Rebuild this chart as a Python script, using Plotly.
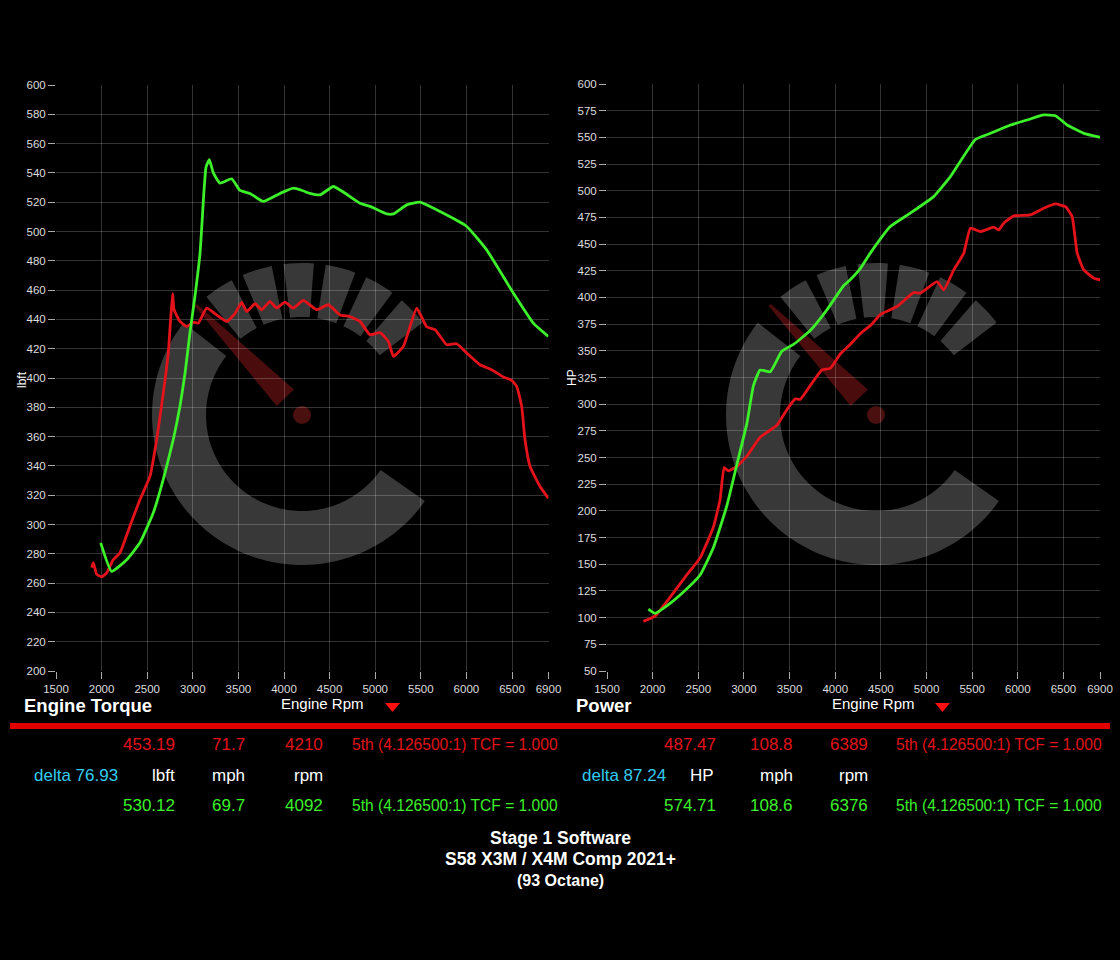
import math
import plotly.graph_objects as go

W, H = 1120, 960

# ---- data ----
rpm_ticks = [1500, 2000, 2500, 3000, 3500, 4000, 4500, 5000, 5500, 6000, 6500, 6900]

tq_stock_rpm = [1891, 1909, 1946, 2001, 2056, 2128, 2202, 2311, 2421, 2531, 2604, 2677, 2731,
                2757, 2779, 2794, 2860, 2933, 3005, 3060, 3152, 3262, 3372, 3463, 3536, 3591,
                3682, 3755, 3846, 3919, 4010, 4102, 4211, 4358, 4486, 4614, 4720, 4833, 4943,
                5053, 5144, 5199, 5309, 5455, 5564, 5656, 5784, 5894, 6003, 6149, 6277, 6405,
                6496, 6551, 6606, 6642, 6697, 6807, 6898]
tq_stock = [270.5, 274, 266, 264.3, 267, 276, 280.7, 299, 317, 333, 358, 390, 417,
            440, 457.5, 446.6, 438.6, 435.2, 438, 437.5, 447.7, 443, 438.6, 444, 451.6, 445.4,
            450.7, 446.6, 452.3, 447.7, 451.8, 447.7, 453, 446.6, 450, 443, 442, 438.6, 429.5,
            431, 425, 414.8, 421.6, 447.7, 435, 433, 422.7, 423.4, 417, 409, 405.7, 400.7,
            398.4, 394.3, 380.7, 358, 339.8, 326, 318]

tq_s1_rpm = [1990, 2110, 2275, 2420, 2567, 2677, 2786, 2860, 2914, 2969, 3024, 3079, 3123,
             3145, 3181, 3225, 3298, 3426, 3517, 3627, 3773, 3956, 4102, 4200, 4285, 4395,
             4540, 4650, 4833, 4950, 5125, 5200, 5345, 5491, 5711, 6003, 6222, 6514, 6733, 6898]
tq_s1 = [287.5, 268, 276, 287.5, 308, 331, 358, 381, 403, 431, 456, 485, 528,
         544, 549, 540, 533, 536, 528, 526, 520.5, 526, 529.6, 528, 526, 525,
         530.7, 527, 519.3, 517, 512, 512, 518.2, 520, 513.6, 503.4, 487.5, 458, 437.5, 428.4]

hp_stock_rpm = [1898, 2026, 2190, 2374, 2520, 2666, 2739, 2783, 2830, 2922, 3032, 3177, 3361,
                3470, 3561, 3616, 3726, 3854, 3945, 4055, 4164, 4274, 4400, 4493, 4676, 4858,
                4932, 5115, 5188, 5298, 5408, 5480, 5590, 5736, 5791, 5845, 5955, 6138, 6284,
                6412, 6522, 6595, 6650, 6723, 6833, 6906]
hp_stock = [96.5, 101.4, 119, 140, 156, 185, 211, 240.6, 237.5, 241.7, 251.3, 269, 280.3,
            294.8, 305, 304.5, 317.4, 332, 333.5, 347, 356, 366, 375, 384, 391.5, 404.6,
            404, 414.9, 407, 425.8, 441.5, 464.9, 461.7, 465.8, 463.3, 469.6, 476.4, 477.4, 483.6,
            487.6, 485, 475.7, 441.5, 425.8, 418, 416.5]

hp_s1_rpm = [1953, 2026, 2155, 2337, 2520, 2666, 2812, 2922, 3032, 3104, 3177, 3287, 3415,
             3543, 3726, 3909, 4091, 4164, 4274, 4384, 4603, 4822, 5078, 5261, 5535, 5700,
             5919, 6102, 6284, 6412, 6540, 6723, 6906]
hp_s1 = [107.9, 104, 111, 124, 140, 165.8, 204.6, 243.3, 282, 317.4, 332, 330.3, 349.6,
         356, 369, 388.4, 411, 416.5, 427, 441.5, 466.4, 479, 494.5, 513.2, 548, 553.8,
         561.6, 566.3, 571, 570.3, 561.6, 553.8, 550]

RED = "#e4121a"
GREEN = "#3cf02a"
CYAN = "#33ccee"
SANS = "Liberation Sans, Arial, sans-serif"


def px(x):
    return x / W


def py(y):
    return 1 - y / H


def poly(points):
    return "M " + " L ".join(f"{px(x):.5f},{py(y):.5f}" for x, y in points) + " Z"


def sector(cx, cy, r0, r1, a0, a1):
    n = max(4, int(abs(a1 - a0) / 2))
    outer = [(cx + r1 * math.cos(math.radians(a0 + (a1 - a0) * i / n)),
              cy - r1 * math.sin(math.radians(a0 + (a1 - a0) * i / n))) for i in range(n + 1)]
    inner = [(cx + r0 * math.cos(math.radians(a1 - (a1 - a0) * i / n)),
              cy - r0 * math.sin(math.radians(a1 - (a1 - a0) * i / n))) for i in range(n + 1)]
    return poly(outer + inner)


def logo(cx, cy):
    grey = "#383838"
    out = [dict(type="path", path=sector(cx, cy, 96, 150, 142, 325))]
    a = 129
    for _ in range(6):
        out.append(dict(type="path", path=sector(cx, cy, 98, 152, a - 11.5, a)))
        a -= 16
    for s in out:
        s.update(xref="paper", yref="paper", fillcolor=grey, line_width=0, layer="below")
    ang = math.radians(134)
    ux, uy = math.cos(ang), -math.sin(ang)
    nx, ny = -uy, ux
    tip, base = 153, 24
    needle = [(cx + ux * tip + nx * 1.5, cy + uy * tip + ny * 1.5),
              (cx + ux * tip - nx * 1.5, cy + uy * tip - ny * 1.5),
              (cx + ux * base - nx * 12, cy + uy * base - ny * 12),
              (cx + ux * base + nx * 12, cy + uy * base + ny * 12)]
    out.append(dict(type="path", path=poly(needle), xref="paper", yref="paper",
                    fillcolor="#4a0c0c", line_width=0, layer="below"))
    out.append(dict(type="circle", xref="paper", yref="paper", x0=px(cx - 9), x1=px(cx + 9),
                    y0=py(cy + 9), y1=py(cy - 9), fillcolor="#4a1010", line_width=0, layer="below"))
    return out


fig = go.Figure()
line = dict(width=2.8, shape="spline", smoothing=0.4)
fig.add_trace(go.Scatter(x=tq_stock_rpm, y=tq_stock, mode="lines", line=dict(line, color=RED),
                         xaxis="x", yaxis="y"))
fig.add_trace(go.Scatter(x=tq_s1_rpm, y=tq_s1, mode="lines", line=dict(line, color=GREEN),
                         xaxis="x", yaxis="y"))
fig.add_trace(go.Scatter(x=hp_stock_rpm, y=hp_stock, mode="lines", line=dict(line, color=RED),
                         xaxis="x2", yaxis="y2"))
fig.add_trace(go.Scatter(x=hp_s1_rpm, y=hp_s1, mode="lines", line=dict(line, color=GREEN),
                         xaxis="x2", yaxis="y2"))

ax = dict(showgrid=True, gridcolor="rgba(255,255,255,0.2)", gridwidth=1, zeroline=False,
          showline=False, ticks="outside", ticklen=7, tickwidth=1, tickcolor="#aaa",
          tickfont=dict(family=SANS, size=11.5, color="#ddd"), fixedrange=True, automargin=False)

fig.update_layout(
    width=W, height=H, autosize=False, margin=dict(l=0, r=0, t=0, b=0, pad=0),
    paper_bgcolor="black", plot_bgcolor="rgba(0,0,0,0)", showlegend=False,
    xaxis=dict(ax, domain=[px(56), px(548.5)], range=[1500, 6900], tickvals=rpm_ticks, anchor="y"),
    yaxis=dict(ax, domain=[py(671), py(85)], range=[200, 600], dtick=20, anchor="x"),
    xaxis2=dict(ax, domain=[px(607), px(1100)], range=[1500, 6900], tickvals=rpm_ticks, anchor="y2"),
    yaxis2=dict(ax, domain=[py(671), py(84)], range=[50, 600], dtick=25, anchor="x2"),
)

shapes = logo(302, 415) + logo(876, 415)
shapes.append(dict(type="rect", xref="paper", yref="paper", x0=px(10), x1=px(1110),
                   y0=py(729), y1=py(723), fillcolor="#e00000", line_width=0))
for tx in (392.5, 942.5):
    shapes.append(dict(type="path", xref="paper", yref="paper", fillcolor="#ff1010", line_width=0,
                       path=poly([(tx - 7.5, 703), (tx + 7.5, 703), (tx, 712)])))
fig.update_layout(shapes=shapes)


def note(text, x, y, size=17, color="white", anchor="left", angle=0):
    fig.add_annotation(text=text, x=px(x), y=py(y), xref="paper", yref="paper",
                       xanchor=anchor, yanchor="middle", showarrow=False, textangle=angle,
                       font=dict(family=SANS, size=size, color=color))


note("lbft", 22, 380, size=12, anchor="center", angle=-90)
note("HP", 572, 378, size=12, anchor="center", angle=-90)
note("<b>Engine Torque</b>", 22, 705, size=18.5)
note("<b>Power</b>", 574, 705, size=18.5)
note("Engine Rpm", 322, 703, size=15, anchor="center")
note("Engine Rpm", 873, 703, size=15, anchor="center")

gear = "5th (4.126500:1) TCF = 1.000"
G = 15.6
# left panel readout
note("453.19", 177, 744, color=RED, anchor="right")
note("71.7", 247, 744, color=RED, anchor="right")
note("4210", 325, 744, color=RED, anchor="right")
note(gear, 350, 744, size=G, color=RED)
note("delta 76.93", 120, 775, color=CYAN, anchor="right")
note("lbft", 177, 775, anchor="right")
note("mph", 247, 775, anchor="right")
note("rpm", 325, 775, anchor="right")
note("530.12", 177, 805, color=GREEN, anchor="right")
note("69.7", 247, 805, color=GREEN, anchor="right")
note("4092", 325, 805, color=GREEN, anchor="right")
note(gear, 350, 805, size=G, color=GREEN)
# right panel readout
note("487.47", 718, 744, color=RED, anchor="right")
note("108.8", 795, 744, color=RED, anchor="right")
note("6389", 870, 744, color=RED, anchor="right")
note(gear, 894, 744, size=G, color=RED)
note("delta 87.24", 668, 775, color=CYAN, anchor="right")
note("HP", 716, 775, anchor="right")
note("mph", 795, 775, anchor="right")
note("rpm", 870, 775, anchor="right")
note("574.71", 718, 805, color=GREEN, anchor="right")
note("108.6", 795, 805, color=GREEN, anchor="right")
note("6376", 870, 805, color=GREEN, anchor="right")
note(gear, 894, 805, size=G, color=GREEN)

note("<b>Stage 1 Software</b>", 560, 838, size=17.5, anchor="center")
note("<b>S58 X3M / X4M Comp 2021+</b>", 560, 859, size=17.5, anchor="center")
note("<b>(93 Octane)</b>", 560, 880, size=16, anchor="center")

fig.write_html("out.html", config={"displayModeBar": False},
               post_script="document.body.style.margin='0px';")
